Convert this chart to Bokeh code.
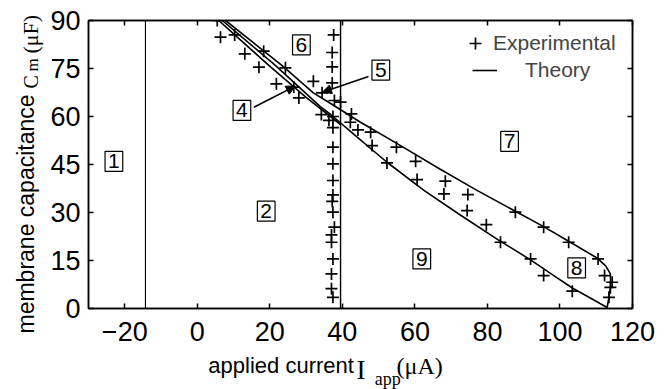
import math
from bokeh.plotting import figure
from bokeh.layouts import row, column
from bokeh.models import (Range1d, FixedTicker, LinearAxis, Label, Arrow, NormalHead,
                          Legend, LegendItem, CustomJSTickFormatter)
from bokeh.embed import file_html
from bokeh.resources import INLINE

# ---------------- data ----------------
x_ticks = [-20, 0, 20, 40, 60, 80, 100, 120]
y_ticks = [0, 15, 30, 45, 60, 75, 90]

# experimental points (applied current, membrane capacitance)
exp_diag_I = [5.5, 6.4, 10.3, 13.1, 17.0, 18.3, 21.8, 24.3, 26.6, 28.0, 32.0, 34.4, 34.2, 36.3]
exp_diag_C = [90.0, 84.8, 85.5, 79.6, 75.4, 80.4, 70.2, 75.2, 69.2, 65.8, 71.0, 67.4, 60.6, 58.8]

exp_col_I = [37.6, 37.2, 37.2, 37.2, 37.8, 37.4, 37.4, 37.4, 37.4, 37.4, 37.4, 37.2,
             37.4, 37.8, 37.0, 37.0, 37.4, 37.0, 37.0, 37.4]
exp_col_C = [85.5, 80.0, 75.5, 70.5, 65.0, 60.0, 56.5, 50.4, 45.2, 40.0, 35.5, 33.5,
             30.1, 25.4, 23.0, 20.7, 15.5, 10.8, 6.2, 3.5]

exp_band_I = [39.5, 42.5, 42.2, 44.3, 47.8, 48.2, 52.3, 54.9, 60.2, 60.6, 68.4, 68.0, 74.6,
              74.4, 79.7, 83.6, 87.7, 91.9, 95.5, 95.5, 102.4, 103.4, 110.5, 112.3, 114.4,
              113.9, 113.5]
exp_band_C = [64.5, 60.8, 58.2, 55.8, 55.1, 50.9, 45.5, 50.4, 46.0, 40.3, 39.8, 35.8, 35.6,
              30.6, 26.2, 20.7, 30.1, 15.5, 25.4, 10.3, 20.7, 5.4, 15.5, 10.3, 8.2,
              6.6, 3.5]

# theory curves
left_line_I = [-14.3, -14.3]
left_line_C = [0, 90]
hopf_line_I = [39.5, 39.5]
hopf_line_C = [0, 90]
curve_a_I = [5.9, 19.8, 30.0, 39.5]
curve_a_C = [90.0, 75.9, 66.0, 57.5]
curve_b_I = [6.9, 21.6, 34.0, 36.7, 44.0, 52.3, 62.5, 72.0, 83.6, 91.9, 98.0, 103.4, 108.5, 113.0]
curve_b_C = [90.0, 75.9, 63.0, 60.7, 53.6, 45.7, 36.9, 29.6, 21.0, 15.2, 10.5, 6.4, 3.2, 0.3]
curve_c_I = [7.8, 23.4, 32.0, 36.0, 45.0, 55.0, 67.0, 77.0, 87.7, 95.5, 102.4, 110.2, 112.6,
             113.9, 114.0, 113.5, 113.0]
curve_c_C = [90.0, 75.9, 67.4, 64.6, 58.2, 51.6, 43.5, 37.0, 30.4, 25.6, 21.0, 15.8, 13.3,
             10.8, 7.0, 3.5, 0.3]

region_labels = ["1", "2", "4", "5", "6", "7", "8", "9"]

# ---------------- layout constants ----------------
region_pos = [(-23.0, 46.0), (19.0, 30.4), (12.3, 61.9), (50.6, 74.5), (28.7, 82.4),
              (86.1, 52.2), (104.6, 12.7), (61.9, 15.5)]

SANS = "Liberation Sans"
SERIF = "Liberation Serif"
YLAB_W = 44
MAIN_H = 352
TOTAL_W, TOTAL_H = 669, 389

p = figure(frame_width=544, frame_height=288, output_backend="svg", toolbar_location=None,
           x_range=Range1d(-30, 120), y_range=Range1d(0, 90),
           min_border_left=88 - YLAB_W, min_border_right=37, min_border_top=20,
           min_border_bottom=MAIN_H - 308)
p.background_fill_color = "white"
p.border_fill_color = "white"
p.grid.visible = False
p.outline_line_color = "black"
p.outline_line_width = 1.5

fmt = CustomJSTickFormatter(code="return tick < 0 ? '\u2212' + Math.abs(tick) : String(tick);")
blank = CustomJSTickFormatter(code="return '';")
for ax, ticks in ((p.xaxis[0], x_ticks), (p.yaxis[0], y_ticks)):
    ax.ticker = FixedTicker(ticks=ticks)
    ax.formatter = fmt
    ax.major_tick_in = 5
    ax.major_tick_out = 0
    ax.minor_tick_line_color = None
    ax.major_tick_line_width = 1.5
    ax.axis_line_width = 1.5
    ax.major_label_text_font = SANS
    ax.major_label_text_font_size = "27px"
    ax.major_label_text_color = "black"
p.xaxis[0].major_label_standoff = 13
p.yaxis[0].major_label_standoff = 8

for loc, ticks in (("above", x_ticks), ("right", y_ticks)):
    ax = LinearAxis(ticker=FixedTicker(ticks=ticks), formatter=blank,
                    major_tick_in=5, major_tick_out=0,
                    major_tick_line_width=1.5, axis_line_width=1.5,
                    minor_tick_line_color=None, major_label_standoff=0)
    p.add_layout(ax, loc)

# theory lines
lw = 1.6
p.line(left_line_I, left_line_C, line_color="black", line_width=1.1)
p.line(hopf_line_I, hopf_line_C, line_color="black", line_width=1.4)
r_theory = p.line(curve_a_I, curve_a_C, line_color="black", line_width=lw)
p.line(curve_b_I, curve_b_C, line_color="black", line_width=lw)
p.line(curve_c_I, curve_c_C, line_color="black", line_width=lw)

# experimental points
exp_I = exp_diag_I + exp_col_I + exp_band_I
exp_C = exp_diag_C + exp_col_C + exp_band_C
r_exp = p.scatter(exp_I, exp_C, marker="cross", size=12, line_color="black", line_width=1.7)

# arrows to regions 4 and 5
head = dict(size=9, fill_color="black", line_color="black", line_width=1)
p.add_layout(Arrow(end=NormalHead(**head), x_start=15.6, y_start=62.9, x_end=27.0, y_end=69.5,
                   line_color="black", line_width=1.6))
p.add_layout(Arrow(end=NormalHead(**head), x_start=47.2, y_start=72.5, x_end=34.5, y_end=67.6,
                   line_color="black", line_width=1.6))

# region labels in boxes
for t, (xx, yy) in zip(region_labels, region_pos):
    p.add_layout(Label(x=xx, y=yy, text=t, text_align="center", text_baseline="middle",
                       text_font=SANS, text_font_size="21px", text_color="black",
                       border_line_color="black", border_line_width=1.2,
                       background_fill_color="white", padding=3))

# legend
leg1 = Legend(items=[LegendItem(label="Experimental", renderers=[r_exp])],
              location=(372, 250), glyph_width=30, glyph_height=30, label_standoff=3,
              padding=0, margin=0, spacing=0, label_text_font=SANS, label_text_font_size="21px",
              border_line_alpha=0, background_fill_alpha=0)
leg2 = Legend(items=[LegendItem(label="Theory", renderers=[r_theory])],
              location=(384, 226), glyph_width=25, glyph_height=20, label_standoff=28,
              padding=0, margin=0, spacing=0, label_text_font=SANS, label_text_font_size="21px",
              border_line_alpha=0, background_fill_alpha=0)
p.add_layout(leg1, "center")
p.add_layout(leg2, "center")


# ---------------- axis titles (separate label panels, pixel coordinates) ----------------
def panel(w, h):
    f = figure(width=w, height=h, x_range=Range1d(0, w), y_range=Range1d(h, 0),
               x_axis_type=None, y_axis_type=None, toolbar_location=None,
               output_backend="svg", min_border=0)
    f.outline_line_color = None
    f.background_fill_color = "white"
    f.border_fill_color = "white"
    return f


def lab(f, x, y, text, font, size, angle=0.0):
    # (x, y) is the middle of the text line
    f.add_layout(Label(x=x, y=y, text=text, text_font=font, text_font_size=f"{size}px",
                       text_color="black", text_align="left", text_baseline="middle",
                       angle=angle))


ylab = panel(YLAB_W, TOTAL_H)
lab(ylab, 25, 333, "membrane capacitance", SANS, 23, math.pi / 2)
lab(ylab, 30, 88, "C", SERIF, 20, math.pi / 2)
lab(ylab, 32, 71, "m", SERIF, 17, math.pi / 2)
lab(ylab, 29.5, 53, "(\u03bcF)", SERIF, 22, math.pi / 2)

xlab = panel(TOTAL_W - YLAB_W, TOTAL_H - MAIN_H)
lab(xlab, 181.7 - YLAB_W, 365.0 - MAIN_H, "applied current", SANS, 22)
lab(xlab, 352 - YLAB_W, 369.5 - MAIN_H, "I", SERIF, 27)
lab(xlab, 373 - YLAB_W, 378.0 - MAIN_H, "app", SERIF, 18)
lab(xlab, 398 - YLAB_W, 365.5 - MAIN_H, "(\u03bcA)", SERIF, 24)

layout = row(ylab, column(p, xlab, spacing=0), spacing=0)

open("out.html", "w").write(file_html(layout, INLINE))
